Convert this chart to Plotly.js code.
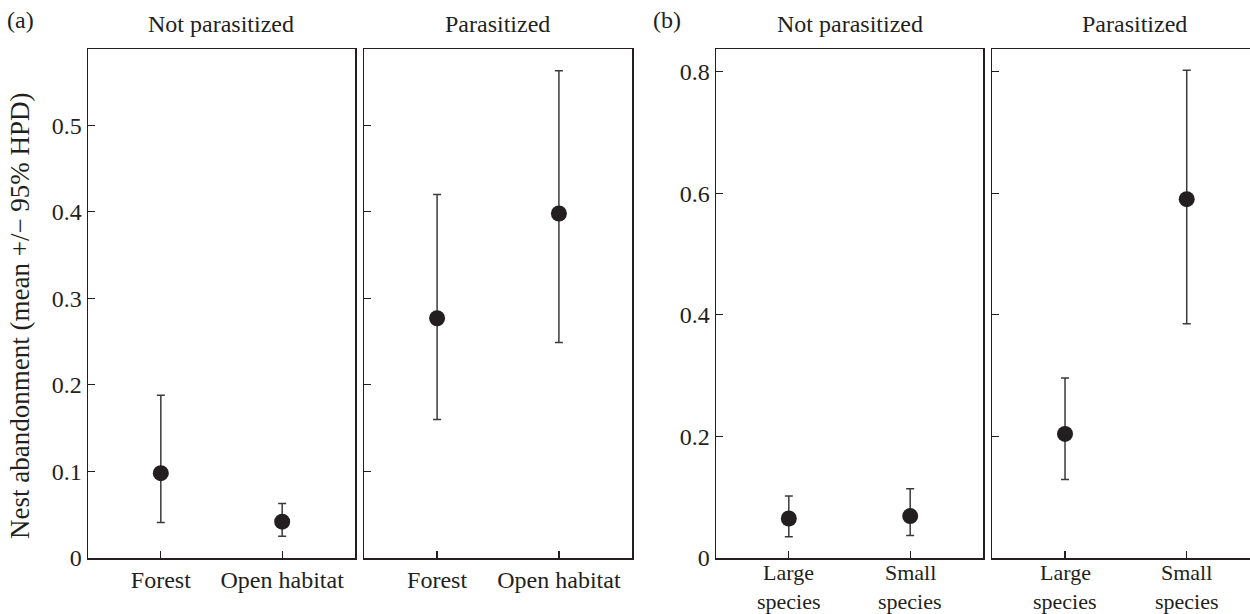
<!DOCTYPE html>
<html>
<head>
<meta charset="utf-8">
<script src="https://cdn.plot.ly/plotly-3.0.1.min.js"></script>
<style>html,body{margin:0;padding:0;background:#fff;}#chart{width:1250px;height:614px;}</style>
</head>
<body>
<div id="chart"></div>
<script>
// Panel (a): habitat
const habitatCats = ["Forest", "Open habitat"];
const habitatNotParMean = [0.098, 0.042];
const habitatNotParLow  = [0.041, 0.025];
const habitatNotParHigh = [0.188, 0.063];
const habitatParMean = [0.277, 0.398];
const habitatParLow  = [0.160, 0.249];
const habitatParHigh = [0.420, 0.563];

// Panel (b): body size
const sizeCats = ["Large species", "Small species"];
const sizeNotParMean = [0.065, 0.069];
const sizeNotParLow  = [0.035, 0.037];
const sizeNotParHigh = [0.102, 0.114];
const sizeParMean = [0.204, 0.590];
const sizeParLow  = [0.129, 0.385];
const sizeParHigh = [0.296, 0.802];

const panelTitles = ["Not parasitized", "Parasitized", "Not parasitized", "Parasitized"];
const panelLetters = ["(a)", "(b)"];
const yTitle = "Nest abandonment (mean +/\u2212 95% HPD)";

const FONT = "Liberation Serif, Times New Roman, serif";
const INK = "#231f20";
const FS = 24;

function trace(cats, mean, low, high, xa, ya) {
  return {
    type: "scatter", mode: "markers",
    x: cats, y: mean, xaxis: xa, yaxis: ya,
    marker: {size: 16, color: INK},
    error_y: {
      type: "data", symmetric: false,
      array: high.map((h, i) => h - mean[i]),
      arrayminus: mean.map((m, i) => m - low[i]),
      color: "#3a3a3a", thickness: 1.5, width: 4
    },
    showlegend: false, hoverinfo: "skip"
  };
}

const data = [
  trace(habitatCats, habitatNotParMean, habitatNotParLow, habitatNotParHigh, "x", "y"),
  trace(habitatCats, habitatParMean, habitatParLow, habitatParHigh, "x2", "y2"),
  trace(sizeCats, sizeNotParMean, sizeNotParLow, sizeNotParHigh, "x3", "y3"),
  trace(sizeCats, sizeParMean, sizeParLow, sizeParHigh, "x4", "y4")
];

const yDom = [56/614, 565/614];
function xax(dom, range, cats, labels) {
  return {
    domain: dom, range: range, type: "category",
    categoryorder: "array", categoryarray: cats,
    showline: true, linecolor: INK, linewidth: 1.5, mirror: true,
    ticks: "inside", ticklen: 7, tickwidth: 1.2, tickcolor: INK,
    showgrid: false, zeroline: false, showticklabels: labels,
    tickfont: {family: FONT, size: FS, color: INK},
    fixedrange: true
  };
}
function yax(range, dtick, labels, anchor, mirror) {
  return {
    domain: yDom, range: range, anchor: anchor,
    dtick: dtick, tick0: 0,
    showline: true, linecolor: INK, linewidth: 1.5, mirror: mirror,
    ticks: "inside", ticklen: 7, tickwidth: 1.2, tickcolor: INK,
    showgrid: false, zeroline: false,
    showticklabels: labels,
    tickfont: {family: FONT, size: FS, color: INK},
    fixedrange: true
  };
}

const base = {showarrow: false, xanchor: "center", yanchor: "middle",
              font: {family: FONT, size: FS, color: INK}};

// two-line category labels for panel (b), tightly stacked as in the original
const catLabels = [];
["x3", "x4"].forEach(xa => {
  sizeCats.forEach(c => {
    const words = c.split(" ");
    catLabels.push({xref: xa, yref: "paper", x: c, y: 1 - 587/614, yanchor: "bottom", text: words[0]});
    catLabels.push({xref: xa, yref: "paper", x: c, y: 1 - 587/614, yanchor: "top", text: words[1]});
  });
});

const layout = {
  width: 1250, height: 614,
  margin: {l: 0, r: 0, t: 0, b: 0},
  paper_bgcolor: "#fff", plot_bgcolor: "#fff",
  font: {family: FONT, color: INK},
  xaxis:  Object.assign(xax([88/1250, 355/1250], [-0.6, 1.6], habitatCats, true), {anchor: "y"}),
  xaxis2: Object.assign(xax([364/1250, 632/1250], [-0.6, 1.6], habitatCats, true), {anchor: "y2"}),
  xaxis3: Object.assign(xax([716/1250, 983/1250], [-0.6, 1.6], sizeCats, false), {anchor: "y3"}),
  xaxis4: Object.assign(xax([992/1250, 1], [-0.6, 1.52], sizeCats, false), {anchor: "y4"}),
  yaxis:  yax([0, 0.588], 0.1, true, "x", true),
  yaxis2: yax([0, 0.588], 0.1, false, "x2", true),
  yaxis3: yax([0, 0.837], 0.2, true, "x3", true),
  yaxis4: yax([0, 0.837], 0.2, false, "x4", false),
  annotations: [
    {text: panelTitles[0], x: 221/1250, y: 1 - 24/614},
    {text: panelTitles[1], x: 498/1250, y: 1 - 24/614},
    {text: panelTitles[2], x: 850/1250, y: 1 - 24/614},
    {text: panelTitles[3], x: 1134/1250, y: 1 - 24/614},
    {text: panelLetters[0], x: 20/1250, y: 1 - 20/614},
    {text: panelLetters[1], x: 667/1250, y: 1 - 20/614},
    {text: yTitle, x: 20/1250, y: 1 - 316/614, textangle: -90, font: {family: FONT, size: 27, color: INK}}
  ].map(a => Object.assign({xref: "paper", yref: "paper"}, base, a)).concat(
    catLabels.map(a => Object.assign({}, base, {font: {family: FONT, size: 22, color: INK}}, a)))
};

Plotly.newPlot("chart", data, layout, {displayModeBar: false, staticPlot: true});
</script>
</body>
</html>
